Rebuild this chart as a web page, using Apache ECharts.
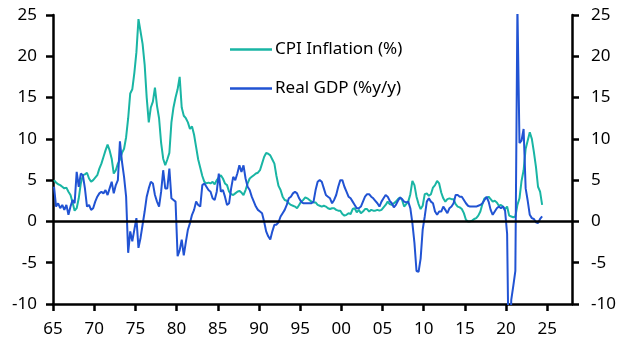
<!DOCTYPE html>
<html>
<head>
<meta charset="utf-8">
<script src="https://cdn.jsdelivr.net/npm/echarts@6/dist/echarts.min.js"></script>
<style>
  html, body { margin: 0; padding: 0; background: #fff; }
  #chart { width: 627px; height: 352px; }
</style>
</head>
<body>
<div id="chart"></div>
<script>
// quarterly values, first point is 1965 Q1
const startYear = 1965

const cpiInflation = [
  5.0, 4.7, 4.5, 4.4,   4.2, 4.0, 4.1, 3.6,   3.2, 2.3, 1.3, 1.6,   2.8, 4.6, 5.6, 5.7,
  5.9, 5.2, 4.8, 5.0,   5.3, 5.6, 6.4, 7.0,   7.8, 8.6, 9.3, 8.6,   7.6, 5.8, 6.2, 7.0,
  7.5, 8.3, 8.8, 10.2,  12.5, 15.5, 16.0, 18.0, 20.5, 24.5, 23.0, 21.5, 19.0, 15.0, 12.0, 13.8,
  14.5, 16.2, 14.0, 12.5, 9.5, 7.6, 6.8, 7.5,  8.3, 12.0, 13.8, 15.0, 16.0, 17.5, 13.8, 12.8,
  12.5, 12.0, 11.2, 11.5, 10.5, 9.0, 7.5, 6.5,  5.5, 4.8, 4.6, 4.7,   4.6, 4.8, 4.5, 5.0,
  5.3, 5.6, 5.2, 4.6,   4.4, 3.6, 3.3, 3.2,   3.4, 3.6, 3.7, 3.5,   3.2, 3.8, 4.6, 5.2,
  5.4, 5.6, 5.8, 5.9,   6.2, 7.0, 7.8, 8.3,   8.2, 8.0, 7.5, 7.0,   5.5, 4.3, 3.8, 3.0,
  2.6, 2.5, 2.2, 2.0,   1.9, 1.8, 1.6, 2.0,   2.4, 2.6, 2.9, 2.8,   2.6, 2.4, 2.3, 2.3,
  2.0, 1.9, 1.8, 1.9,   1.8, 1.6, 1.5, 1.6,   1.6, 1.4, 1.3, 1.3,   0.9, 0.7, 0.8, 1.0,
  0.9, 1.5, 1.6, 1.1,   1.4, 1.0, 1.2, 1.5,   1.5, 1.2, 1.4, 1.3,   1.3, 1.4, 1.3, 1.4,
  1.7, 2.0, 2.4, 2.1,   2.0, 2.2, 2.4, 2.7,   2.9, 2.6, 1.8, 2.1,   2.4, 3.3, 4.9, 4.4,
  3.0, 2.1, 1.5, 1.9,   3.3, 3.4, 3.1, 3.3,   4.1, 4.4, 4.9, 4.6,   3.5, 2.8, 2.4, 2.7,
  2.8, 2.7, 2.7, 2.1,   1.8, 1.7, 1.5, 1.0,   0.2, 0.0, 0.0, 0.1,   0.3, 0.4, 0.7, 1.2,
  2.1, 2.8, 2.8, 3.0,   2.7, 2.4, 2.5, 2.3,   1.9, 2.0, 1.8, 1.5,   1.8, 0.7, 0.6, 0.5,
  0.6, 2.0, 2.8, 4.9,   6.2, 8.8, 9.8, 10.8,  10.0, 8.4, 6.6, 4.2,   3.6, 2.0
]

const realGdp = [
  4.2, 1.8, 2.2, 1.6,   2.0, 1.4, 2.0, 0.8,   1.8, 2.6, 2.2, 6.0,   4.2, 5.8, 5.6, 4.0,
  1.8, 2.0, 1.4, 1.6,   2.4, 3.0, 3.4, 3.6,   3.4, 3.8, 3.2, 4.0,   4.8, 3.4, 4.4, 5.0,
  9.7, 7.2, 5.4, 3.0,   -3.8, -1.2, -2.4, -1.0, 0.4, -3.2, -2.0, -0.4, 1.2, 3.0, 4.0, 4.8,
  4.6, 3.2, 2.4, 1.8,   3.6, 6.2, 4.0, 4.0,   6.4, 2.8, 2.6, 2.4,   -4.2, -3.5, -2.2, -4.1,
  -2.5, -1.0, -0.2, 0.8, 1.4, 2.4, 2.0, 1.8,  4.4, 4.6, 4.2, 3.8,   3.6, 2.8, 2.6, 3.6,
  5.8, 3.6, 3.8, 3.0,   2.0, 2.2, 4.0, 5.4,   5.0, 5.8, 6.8, 6.0,   6.8, 5.2, 4.2, 3.8,
  3.0, 2.4, 1.8, 1.4,   1.2, 1.0, 0.0, -1.2,  -1.8, -2.2, -1.2, -0.4, -0.4, -0.1, 0.6, 1.0,
  1.4, 2.0, 2.8, 3.0,   3.4, 3.6, 3.4, 2.8,   2.4, 2.2, 2.2, 2.2,   2.2, 2.2, 2.4, 3.8,
  4.8, 5.0, 4.8, 4.0,   3.2, 3.0, 2.8, 2.2,   2.6, 3.2, 4.2, 5.0,   5.0, 4.2, 3.6, 3.0,
  2.8, 2.4, 2.0, 1.6,   1.6, 1.8, 2.4, 3.0,   3.3, 3.3, 3.0, 2.8,   2.5, 2.2, 1.8, 2.4,
  2.8, 3.2, 3.0, 2.5,   2.2, 1.7, 2.0, 2.5,   2.9, 2.7, 2.4, 2.3,   2.4, 1.6, -0.2, -2.6,
  -6.0, -6.1, -4.5, -1.0, 0.6, 2.4, 2.8, 2.4, 2.2, 1.2, 0.8, 1.2,   1.2, 1.8, 1.4, 1.0,
  1.6, 1.8, 2.2, 3.2,   3.2, 3.0, 3.0, 2.6,   2.2, 1.9, 1.8, 1.8,   1.8, 1.8, 1.9, 2.0,
  2.2, 2.6, 3.0, 2.4,   1.4, 0.8, 1.2, 1.6,   1.8, 1.6, 1.8, 1.3,   -1.5, -21.0, -9.5, -7.8,
  -6.0, 26.0, 9.5, 9.8, 11.2, 4.0, 2.5, 0.8,  0.4, 0.3, -0.1, -0.2,  0.3, 0.6
]

const yTicks = { min: -10, max: 25, interval: 5 }
const xTicks = { min: 1965, max: 2028, interval: 5 }
const xTickValues = [1965, 1970, 1975, 1980, 1985, 1990, 1995, 2000, 2005, 2010, 2015, 2020, 2025]

// mid-quarter positions
const toPoints = arr => arr.map((v, i) => [startYear + i * 0.25 + 0.125, v])

const fontFamily = 'Noto Sans'
const black = '#000'
const textColor = '#000'
const fontSize = 17

const yAxisBase = {
  type: 'value',
  min: yTicks.min,
  max: yTicks.max,
  interval: yTicks.interval,
  axisLine: { show: true, lineStyle: { color: black, width: 2.5 } },
  axisTick: { show: true, length: 7, lineStyle: { color: black, width: 2.5 } },
  splitLine: { show: false },
}

const option = {
  animation: false,
  grid: { left: 53, right: 55, top: 15, bottom: 48, containLabel: false },
  legend: {
    orient: 'vertical',
    left: 230,
    top: 41,
    padding: 0,
    itemWidth: 42,
    itemHeight: 2.5,
    itemGap: 22,
    icon: 'rect',
    textStyle: { color: textColor, fontSize: fontSize, fontFamily: fontFamily, padding: [0, 0, 0, -2] },
    data: ['CPI Inflation (%)', 'Real GDP (%y/y)']
  },
  xAxis: {
    type: 'value',
    min: xTicks.min,
    max: xTicks.max,
    interval: xTicks.interval,
    axisLine: { onZero: false, lineStyle: { color: black, width: 2.5 } },
    axisTick: { length: 7, customValues: xTickValues, lineStyle: { color: black, width: 2.5 } },
    axisLabel: {
      color: textColor,
      fontSize: fontSize,
      fontFamily: fontFamily,
      margin: 17,
      customValues: xTickValues,
      formatter: v => String(v % 100).padStart(2, '0')
    },
    splitLine: { show: false }
  },
  yAxis: [
    Object.assign({}, yAxisBase, {
      position: 'left',
      axisLabel: { color: textColor, fontSize: fontSize, fontFamily: fontFamily, margin: 16 }
    }),
    Object.assign({}, yAxisBase, {
      position: 'right',
      axisLabel: { color: textColor, fontSize: fontSize, fontFamily: fontFamily, margin: 19 }
    })
  ],
  series: [
    {
      name: 'CPI Inflation (%)',
      type: 'line',
      data: toPoints(cpiInflation),
      showSymbol: false,
      symbol: 'none',
      lineStyle: { color: '#19b5a4', width: 2 },
      itemStyle: { color: '#19b5a4' },
      markLine: {
        silent: true,
        symbol: 'none',
        label: { show: false },
        lineStyle: { color: black, width: 2.5, type: 'solid' },
        data: [{ yAxis: 0 }]
      }
    },
    {
      name: 'Real GDP (%y/y)',
      type: 'line',
      data: toPoints(realGdp),
      showSymbol: false,
      symbol: 'none',
      lineStyle: { color: '#2153d3', width: 2 },
      itemStyle: { color: '#2153d3' }
    }
  ]
}

const myChart = echarts.init(document.getElementById('chart'))
myChart.setOption(option)
</script>
</body>
</html>
